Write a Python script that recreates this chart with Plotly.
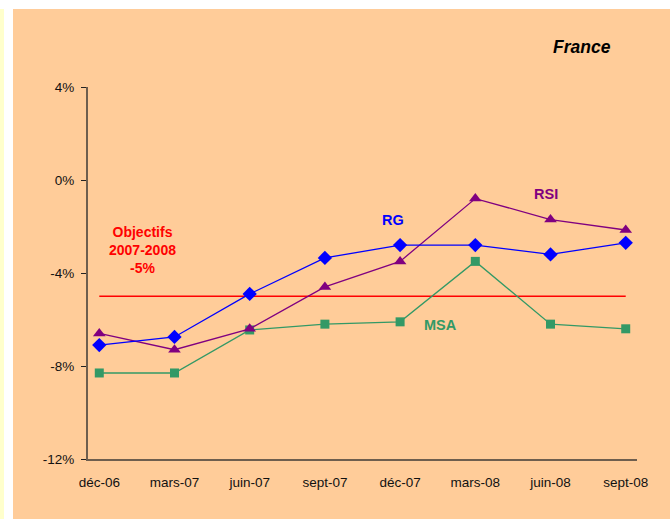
import plotly.graph_objects as go

categories = ["déc-06", "mars-07", "juin-07", "sept-07", "déc-07", "mars-08", "juin-08", "sept-08"]
rg = [-7.1, -6.75, -4.9, -3.35, -2.8, -2.8, -3.2, -2.7]
rsi = [-6.6, -7.3, -6.4, -4.6, -3.5, -0.8, -1.7, -2.15]
msa = [-8.3, -8.3, -6.45, -6.2, -6.1, -3.5, -6.2, -6.4]
objectif = -5
y_ticks = [4, 0, -4, -8, -12]
y_tick_labels = ["4%", "0%", "-4%", "-8%", "-12%"]

xs = list(range(len(categories)))
font = "Liberation Sans, Arial, sans-serif"

fig = go.Figure()
fig.add_trace(go.Scatter(x=[xs[0], xs[-1]], y=[objectif, objectif], mode="lines",
                         line=dict(color="#FF0000", width=1.5), hoverinfo="skip"))
fig.add_trace(go.Scatter(x=xs, y=msa, mode="lines+markers", name="MSA",
                         line=dict(color="#339966", width=1.3),
                         marker=dict(symbol="square", size=9, color="#339966")))
fig.add_trace(go.Scatter(x=xs, y=rsi, mode="lines+markers", name="RSI",
                         line=dict(color="#800080", width=1.3),
                         marker=dict(symbol="triangle-up", size=11, color="#800080")))
fig.add_trace(go.Scatter(x=xs, y=rg, mode="lines+markers", name="RG",
                         line=dict(color="#0000FF", width=1.3),
                         marker=dict(symbol="diamond", size=11, color="#0000FF")))

fig.update_layout(
    width=670, height=519,
    margin=dict(l=88, r=33, t=87, b=60),
    paper_bgcolor="white",
    plot_bgcolor="rgba(0,0,0,0)",
    showlegend=False,
    font=dict(family=font, size=13.5, color="#111111"),
    xaxis=dict(range=[-0.15, 7.15], tickvals=xs, ticktext=categories,
               showgrid=False, zeroline=False, showline=True, linecolor="#6e5e4e",
               linewidth=2, ticks="", ticklabelstandoff=10,
               tickfont=dict(size=13.5, color="#111111")),
    yaxis=dict(range=[-12, 4], tickvals=y_ticks, ticktext=y_tick_labels,
               showgrid=False, zeroline=False, showline=True, linecolor="#6e5e4e",
               linewidth=2, ticks="outside", ticklen=5, tickcolor="#222222",
               ticklabelstandoff=4, tickfont=dict(size=13.5, color="#111111")),
    shapes=[
        dict(type="rect", xref="paper", yref="paper", x0=-0.1366, x1=1.07, y0=-0.17, y1=1.2097,
             fillcolor="#FFCC99", line=dict(width=0), layer="below"),
        dict(type="rect", xref="paper", yref="paper", x0=-0.1610, x1=-0.1530, y0=-0.17, y1=1.2097,
             fillcolor="#FFFFCC", line=dict(width=0), layer="below"),
    ],
    annotations=[
        dict(xref="paper", yref="paper", x=0.8998, y=1.1075, xanchor="center", yanchor="middle",
             text="<b><i>France</i></b>",
             showarrow=False, font=dict(size=17.5, color="black", family=font)),
        dict(x=3.9, y=-1.72, text="<b>RG</b>", showarrow=False,
             font=dict(size=14.5, color="#0000FF", family=font)),
        dict(x=5.94, y=-0.6, text="<b>RSI</b>", showarrow=False,
             font=dict(size=14.5, color="#800080", family=font)),
        dict(x=4.54, y=-6.24, text="<b>MSA</b>", showarrow=False,
             font=dict(size=14.5, color="#339966", family=font)),
        dict(x=0.57, y=-3.0, text="<b>Objectifs<br>2007-2008<br>-5%</b>", showarrow=False,
             align="center", font=dict(size=14, color="#FF0000", family=font)),
    ],
)

fig.write_html("out.html", config={"displayModeBar": False},
               post_script="document.body.style.margin='0';document.body.style.overflow='hidden';")
